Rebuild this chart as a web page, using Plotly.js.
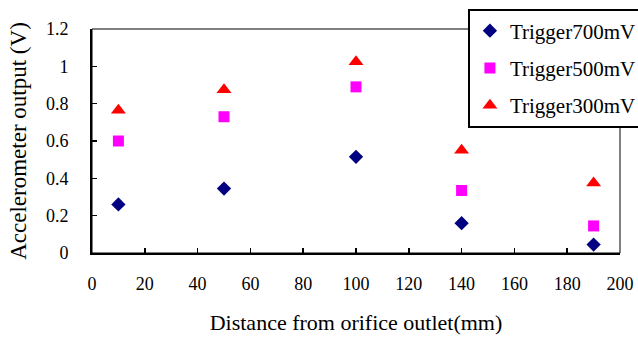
<!DOCTYPE html>
<html>
<head>
<meta charset="utf-8">
<script src="https://cdn.plot.ly/plotly-3.0.1.min.js"></script>
<style>html,body{margin:0;padding:0;background:#fff;}#chart{width:638px;height:339px;}</style>
</head>
<body>
<div id="chart"></div>
<script>
const distance = [10, 50, 100, 140, 190];
const trigger700 = [0.26, 0.345, 0.515, 0.16, 0.045];
const trigger500 = [0.60, 0.73, 0.89, 0.335, 0.145];
const trigger300 = [0.765, 0.875, 1.025, 0.55, 0.375];
const seriesNames = ['Trigger700mV', 'Trigger500mV', 'Trigger300mV'];
const xTicks = [0, 20, 40, 60, 80, 100, 120, 140, 160, 180, 200];
const yTicks = [0, 0.2, 0.4, 0.6, 0.8, 1, 1.2];

const font = 'Liberation Serif';
const traces = [
  {x: distance, y: trigger700, name: seriesNames[0], mode: 'markers', type: 'scatter', legendgroup: 'a',
   marker: {symbol: 'diamond', size: 11, color: '#000080'}},
  {x: distance, y: trigger500, name: seriesNames[1], mode: 'markers', type: 'scatter', legendgroup: 'b',
   marker: {symbol: 'square', size: 11, color: '#ff00ff'}},
  {x: distance, y: trigger300, name: seriesNames[2], mode: 'markers', type: 'scatter', legendgroup: 'c',
   marker: {symbol: 'triangle-up', size: 13, color: '#ff0000'}}
];
const layout = {
  width: 638, height: 339,
  margin: {l: 92, r: 18, t: 29, b: 86, pad: 0, autoexpand: false},
  paper_bgcolor: '#fff', plot_bgcolor: '#fff',
  font: {family: font, size: 18, color: '#000'},
  showlegend: true,
  legend: {x: 0.712, y: 1.0915, xanchor: 'left', yanchor: 'top', bgcolor: '#fff',
           bordercolor: '#000', borderwidth: 2, font: {family: font, size: 21, color: '#000'},
           traceorder: 'grouped', tracegroupgap: 7},
  xaxis: {range: [0, 200], tickvals: xTicks, ticktext: xTicks.map(String), showgrid: false, zeroline: false,
          showline: true, linecolor: '#000', linewidth: 2, ticks: 'inside', ticklen: 5, tickwidth: 1.5, tickcolor: '#000',
          tickfont: {family: font, size: 18, color: '#000'}, ticklabelstandoff: 13,
          title: {text: 'Distance from orifice outlet(mm)', font: {family: font, size: 22, color: '#000'}, standoff: 22}},
  yaxis: {range: [0, 1.2], tickvals: yTicks, ticktext: yTicks.map(String), showgrid: false, zeroline: false,
          showline: true, linecolor: '#000', linewidth: 2, ticks: 'inside', ticklen: 5, tickwidth: 1.5, tickcolor: '#000',
          tickfont: {family: font, size: 18, color: '#000'}, ticklabelstandoff: 18,
          title: {text: 'Accelerometer output (V)', font: {family: font, size: 23, color: '#000'}, standoff: 13}},
  shapes: [{type: 'rect', xref: 'paper', yref: 'paper', x0: 0, x1: 1, y0: 0, y1: 1, line: {color: '#000', width: 1}, layer: 'below'}]
};
Plotly.newPlot('chart', traces, layout, {displayModeBar: false, staticPlot: true});
</script>
</body>
</html>
